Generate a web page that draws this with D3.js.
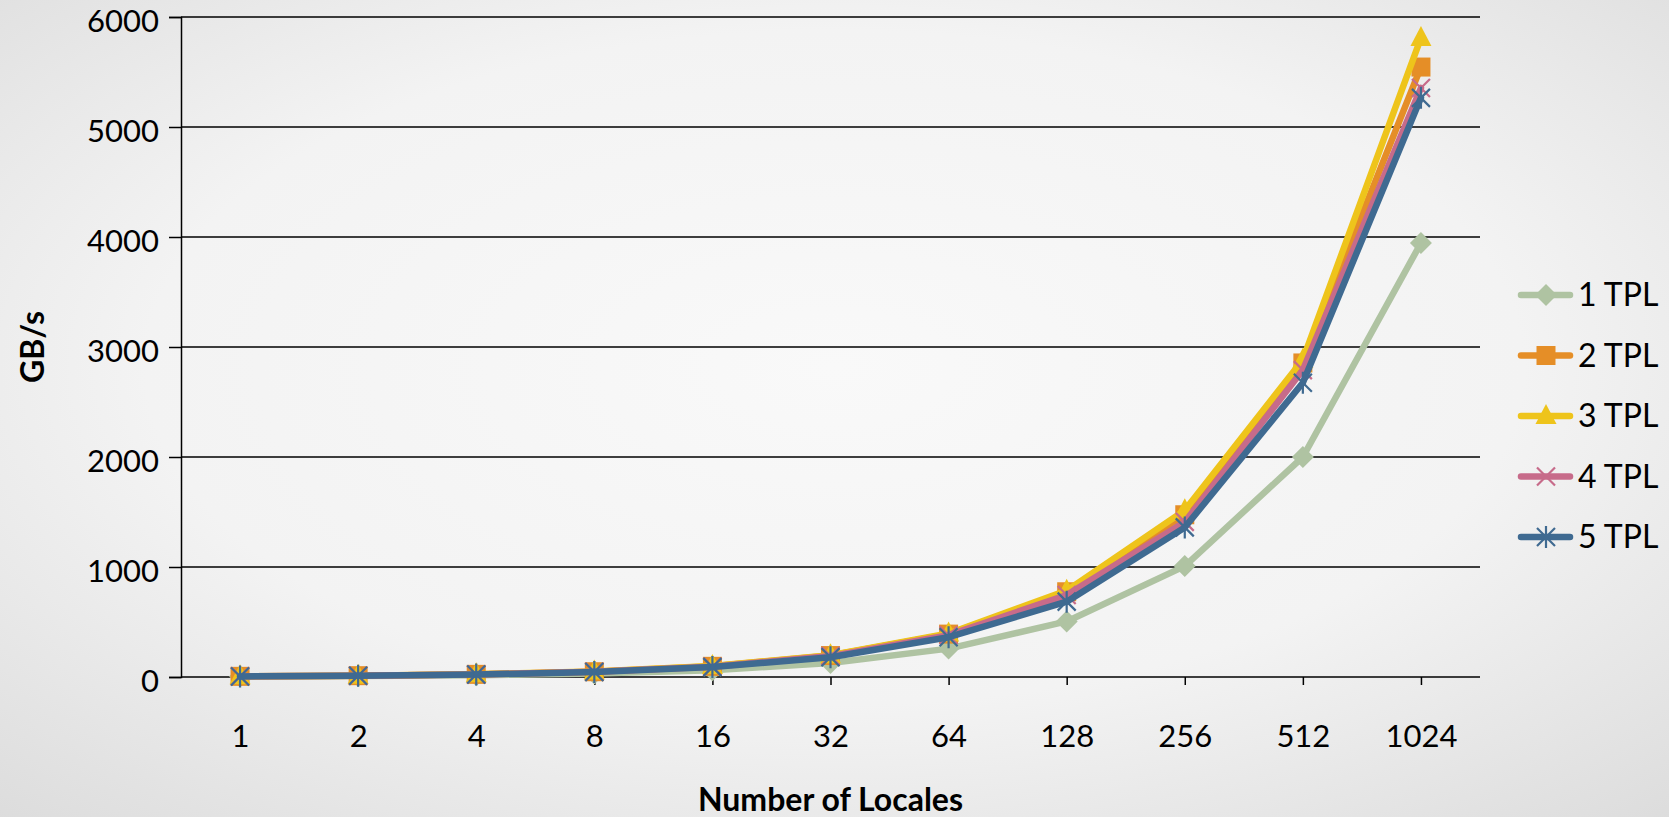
<!DOCTYPE html>
<html>
<head>
<meta charset="utf-8">
<script src="https://cdn.jsdelivr.net/npm/d3@7"></script>
<style>
  html, body { margin: 0; padding: 0; }
  body { width: 1669px; height: 817px; overflow: hidden; }
  svg { display: block; font-family: Lato, "Open Sans", sans-serif; }
</style>
</head>
<body>
<svg id="chart" width="1669" height="817"></svg>
<script>
// Locale counts along the x axis
const locales = ["1", "2", "4", "8", "16", "32", "64", "128", "256", "512", "1024"];

// Aggregate bandwidth (GB/s) per tasks-per-locale setting
const tpl1 = [4, 8, 16, 31, 62, 127, 258, 505, 1008, 2000, 3945];
const tpl2 = [6, 12, 24, 48, 97, 195, 390, 775, 1475, 2855, 5545];
const tpl3 = [6, 12, 25, 49, 99, 198, 396, 785, 1515, 2885, 5810];
const tpl4 = [6, 11, 23, 47, 94, 190, 380, 745, 1410, 2790, 5355];
const tpl5 = [5, 11, 22, 45, 90, 180, 362, 685, 1360, 2675, 5265];

const seriesNames = ["1 TPL", "2 TPL", "3 TPL", "4 TPL", "5 TPL"];
const seriesColors = ["#AFC3A2", "#E58E27", "#EEC41B", "#C76B8A", "#3F6A91"];
const seriesMarkers = ["diamond", "square", "triangle", "cross", "star"];

const yTicks = [0, 1000, 2000, 3000, 4000, 5000, 6000];

const series = [tpl1, tpl2, tpl3, tpl4, tpl5].map((values, i) => ({
  name: seriesNames[i], color: seriesColors[i], marker: seriesMarkers[i], values
}));

const svg = d3.select("#chart");
const W = 1669, H = 817;

// Soft grey backdrop, lighter toward the middle
const defs = svg.append("defs");
const grad = defs.append("radialGradient").attr("id", "bg")
  .attr("cx", "50%").attr("cy", "45%").attr("r", "75%");
grad.append("stop").attr("offset", "0%").attr("stop-color", "#f9f9f9");
grad.append("stop").attr("offset", "55%").attr("stop-color", "#f3f3f3");
grad.append("stop").attr("offset", "100%").attr("stop-color", "#dcdcdc");
svg.append("rect").attr("width", W).attr("height", H).attr("fill", "url(#bg)");

const plot = { left: 181, right: 1480, top: 17, bottom: 677 };

const x = d3.scaleBand().domain(locales).range([plot.left, plot.right]).padding(0);
const y = d3.scaleLinear().domain([0, 6000]).range([plot.bottom, plot.top]);
const cx = d => x(d) + x.bandwidth() / 2;

// Horizontal gridlines
svg.append("g").selectAll("line").data(yTicks.filter(t => t > 0)).join("line")
  .attr("x1", plot.left).attr("x2", plot.right)
  .attr("y1", d => y(d)).attr("y2", d => y(d))
  .attr("stroke", "#000").attr("stroke-width", 1.5);

// Y axis
const yAxis = svg.append("g").attr("transform", `translate(${plot.left},0)`)
  .call(d3.axisLeft(y).tickValues(yTicks).tickSize(12).tickPadding(10).tickFormat(d3.format("d")));
yAxis.select(".domain").attr("stroke", "#000").attr("stroke-width", 1.5);
yAxis.selectAll(".tick line").attr("stroke", "#000").attr("stroke-width", 1.5);
yAxis.selectAll(".tick text").attr("font-size", 31).attr("fill", "#000")
  .attr("font-family", "Lato, sans-serif").attr("dy", "0.47em");

// X axis, ticks at category centres
const xPoint = d3.scalePoint().domain(locales)
  .range([cx(locales[0]), cx(locales[locales.length - 1])]);
const xAxis = svg.append("g").attr("transform", `translate(0,${plot.bottom})`)
  .call(d3.axisBottom(xPoint).tickSize(8).tickPadding(40).tickSizeOuter(0));
xAxis.select(".domain").attr("d", `M${plot.left},0H${plot.right}`)
  .attr("stroke", "#000").attr("stroke-width", 1.5);
xAxis.selectAll(".tick line").attr("stroke", "#000").attr("stroke-width", 1.5);
xAxis.selectAll(".tick text").attr("font-size", 31).attr("fill", "#000")
  .attr("font-family", "Lato, sans-serif");

// Axis titles
svg.append("text").attr("x", (plot.left + plot.right) / 2).attr("y", 811)
  .attr("text-anchor", "middle").attr("font-size", 32).attr("font-weight", "bold")
  .text("Number of Locales");
svg.append("text").attr("transform", "translate(44,347) rotate(-90)")
  .attr("text-anchor", "middle").attr("font-size", 32).attr("font-weight", "bold")
  .text("GB/s");

// Marker drawing
function drawMarker(g, type, color) {
  if (type === "diamond") {
    g.append("path").attr("d", "M0,-11L11,0L0,11L-11,0Z").attr("fill", color);
  } else if (type === "square") {
    g.append("rect").attr("x", -9.5).attr("y", -9.5).attr("width", 19).attr("height", 19).attr("fill", color);
  } else if (type === "triangle") {
    g.append("path").attr("d", "M0,-12L10.5,8L-10.5,8Z").attr("fill", color);
  } else if (type === "cross") {
    g.append("path").attr("d", "M-9,-9L9,9M-9,9L9,-9")
      .attr("stroke", color).attr("stroke-width", 2.2).attr("fill", "none");
  } else if (type === "star") {
    g.append("path").attr("d", "M-9,-9L9,9M-9,9L9,-9M0,-11V11")
      .attr("stroke", color).attr("stroke-width", 2.2).attr("fill", "none");
  }
}

const line = d3.line().x((d, i) => cx(locales[i])).y(d => y(d));

series.forEach(s => {
  const g = svg.append("g");
  g.append("path").datum(s.values).attr("d", line)
    .attr("fill", "none").attr("stroke", s.color).attr("stroke-width", 6.5)
    .attr("stroke-linejoin", "round").attr("stroke-linecap", "round");
  s.values.forEach((v, i) => {
    const m = g.append("g").attr("transform", `translate(${cx(locales[i])},${y(v)})`);
    drawMarker(m, s.marker, s.color);
  });
});

// Legend
const legend = svg.append("g");
series.forEach((s, i) => {
  const ly = 295 + i * 60.5;
  const item = legend.append("g").attr("transform", `translate(0,${ly})`);
  item.append("line").attr("x1", 1521).attr("x2", 1570).attr("y1", 0).attr("y2", 0)
    .attr("stroke", s.color).attr("stroke-width", 6.5).attr("stroke-linecap", "round");
  drawMarker(item.append("g").attr("transform", "translate(1546,0)"), s.marker, s.color);
  item.append("text").attr("x", 1578).attr("y", 0).attr("dy", "0.35em")
    .attr("font-size", 32).attr("fill", "#000").text(s.name);
});
</script>
</body>
</html>
